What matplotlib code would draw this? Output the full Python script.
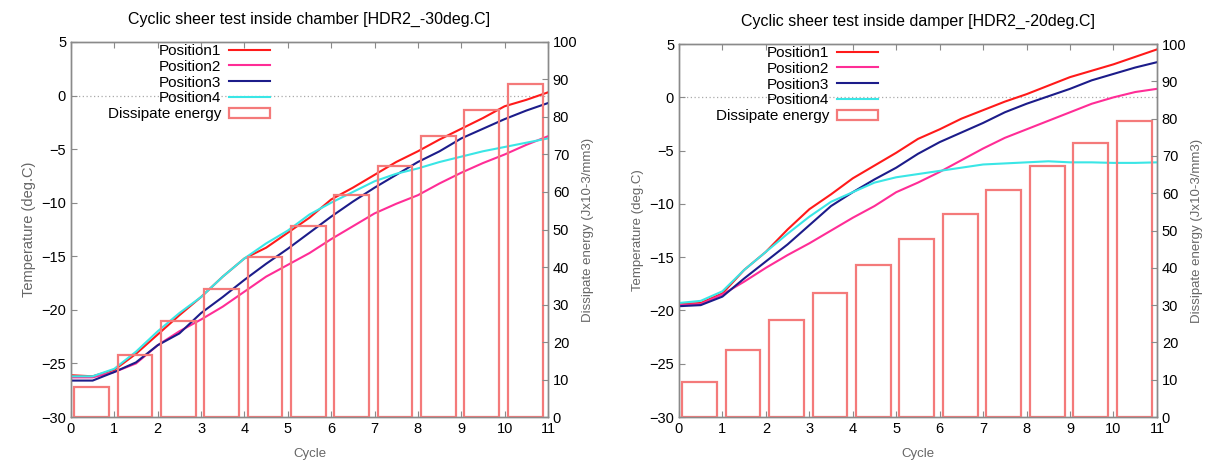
import matplotlib

matplotlib.use("Agg")
import matplotlib.pyplot as plt
from matplotlib.lines import Line2D
from matplotlib.patches import Patch

plt.rcParams["font.family"] = ["Liberation Sans", "DejaVu Sans"]

# every half cycle
CYCLE_PTS = [0, 0.5, 1, 1.5, 2, 2.5, 3, 3.5, 4, 4.5, 5, 5.5,
             6, 6.5, 7, 7.5, 8, 8.5, 9, 9.5, 10, 10.5, 11]
BAR_CYCLES = [0, 1, 2, 3, 4, 5, 6, 7, 8, 9, 10]
SERIES = ["Position1", "Position2", "Position3", "Position4"]

# chamber, -30 deg.C
L_POS1 = [-26.1, -26.2, -25.6, -24.1, -22.3, -20.5, -18.8, -16.9, -15.2, -14.2, -12.8, -11.4,
          -9.7, -8.6, -7.4, -6.2, -5.2, -4.1, -3.1, -2.1, -1.0, -0.4, 0.3]
L_POS2 = [-26.3, -26.3, -25.8, -25.0, -23.3, -22.0, -20.9, -19.7, -18.3, -16.9, -15.8, -14.7,
          -13.4, -12.2, -11.0, -10.1, -9.3, -8.2, -7.2, -6.3, -5.5, -4.6, -3.8]
L_POS3 = [-26.6, -26.6, -25.8, -24.9, -23.3, -22.2, -20.3, -18.8, -17.2, -15.7, -14.3, -12.8,
          -11.3, -9.9, -8.6, -7.4, -6.2, -5.2, -4.0, -3.1, -2.2, -1.4, -0.7]
L_POS4 = [-26.2, -26.2, -25.5, -23.9, -22.0, -20.3, -18.8, -16.9, -15.2, -13.8, -12.6, -11.1,
          -10.0, -9.0, -8.0, -7.3, -6.8, -6.2, -5.7, -5.2, -4.8, -4.4, -4.0]
L_ENERGY = [7.9, 16.5, 25.7, 34.2, 42.7, 51.0, 59.3, 66.8, 74.8, 81.9, 88.7]

# damper, -20 deg.C
R_POS1 = [-19.4, -19.3, -18.4, -16.2, -14.5, -12.4, -10.5, -9.1, -7.6, -6.4, -5.2, -3.9,
          -3.0, -2.0, -1.2, -0.4, 0.3, 1.1, 1.9, 2.5, 3.1, 3.8, 4.5]
R_POS2 = [-19.5, -19.4, -18.5, -17.3, -16.0, -14.8, -13.7, -12.5, -11.3, -10.2, -8.9, -8.0,
          -7.0, -5.9, -4.8, -3.8, -3.0, -2.2, -1.4, -0.6, 0.0, 0.5, 0.8]
R_POS3 = [-19.6, -19.5, -18.7, -17.0, -15.4, -13.8, -12.0, -10.2, -8.9, -7.7, -6.6, -5.3,
          -4.2, -3.3, -2.4, -1.4, -0.6, 0.1, 0.8, 1.6, 2.2, 2.8, 3.3]
R_POS4 = [-19.3, -19.1, -18.2, -16.2, -14.5, -12.8, -11.2, -9.8, -8.9, -8.0, -7.5, -7.2,
          -6.9, -6.6, -6.3, -6.2, -6.1, -6.0, -6.1, -6.1, -6.15, -6.15, -6.1]
R_ENERGY = [9.4, 18.0, 25.9, 33.3, 40.8, 47.6, 54.5, 61.0, 67.4, 73.4, 79.5]

TEMP_TICKS = [-30, -25, -20, -15, -10, -5, 0, 5]
ENERGY_TICKS = [0, 10, 20, 30, 40, 50, 60, 70, 80, 90, 100]
CYCLE_TICKS = [0, 1, 2, 3, 4, 5, 6, 7, 8, 9, 10, 11]

COLORS = ["#ff1a1a", "#ff2d96", "#1c1c8a", "#3ae6e6"]
BAR_COLOR = "#f47a7a"
AXIS_GRAY = "#8a8a8a"
LABEL_GRAY = "#666666"


def style_axis(ax):
    for sp in ax.spines.values():
        sp.set_color(AXIS_GRAY)
        sp.set_linewidth(1.0)
    ax.tick_params(direction="in", length=4, color=AXIS_GRAY, labelsize=10.5,
                   labelcolor="black")


def draw_panel(ax, title, curves, energy, ylabel_size):
    ax.axhline(0, color="#aaaaaa", lw=0.9, ls=(0, (1, 2)), zorder=1)
    for name, vals, col in zip(SERIES, curves, COLORS):
        ax.plot(CYCLE_PTS, vals, color=col, lw=1.5, label=name, zorder=3)
    ax.set_xlim(0, 11)
    ax.set_ylim(-30, 5)
    ax.set_xticks(CYCLE_TICKS)
    ax.set_yticks(TEMP_TICKS)
    ax.tick_params(top=True, right=False)
    style_axis(ax)
    ax.set_title(title, fontsize=11.5, pad=13)
    ax.set_xlabel("Cycle", fontsize=9.5, color=LABEL_GRAY, labelpad=9)
    ax.set_ylabel("Temperature (deg.C)", fontsize=ylabel_size, color=LABEL_GRAY, labelpad=4)

    ax2 = ax.twinx()
    ax2.bar([c + 0.475 for c in BAR_CYCLES], energy, width=0.8, facecolor="none",
            edgecolor=BAR_COLOR, lw=1.6)
    ax2.set_ylim(0, 100)
    ax2.set_yticks(ENERGY_TICKS)
    style_axis(ax2)
    ax2.set_ylabel("Dissipate energy (Jx10-3/mm3)", fontsize=9.5, color=LABEL_GRAY,
                   labelpad=3)

    handles = [Line2D([], [], color=c, lw=1.5) for c in COLORS]
    handles.append(Patch(facecolor="white", edgecolor=BAR_COLOR, lw=1.6))
    ax2.legend(handles, SERIES + ["Dissipate energy"], loc="upper right",
               bbox_to_anchor=(0.417, 0.995), frameon=False, markerfirst=False,
               fontsize=11, handlelength=2.7, handletextpad=0.5, labelspacing=0.12,
               borderpad=0, borderaxespad=0)


def main():
    fig = plt.figure(figsize=(12.3, 4.65), dpi=100)
    ax_l = fig.add_axes([0.0577, 0.1032, 0.3878, 0.8065])
    ax_r = fig.add_axes([0.552, 0.1032, 0.3886, 0.802])

    draw_panel(ax_l, "Cyclic sheer test inside chamber [HDR2_-30deg.C]",
               [L_POS1, L_POS2, L_POS3, L_POS4], L_ENERGY, 10.5)
    draw_panel(ax_r, "Cyclic sheer test inside damper [HDR2_-20deg.C]",
               [R_POS1, R_POS2, R_POS3, R_POS4], R_ENERGY, 9.5)

    fig.savefig("out.png", dpi=100)
    plt.close(fig)


if __name__ == "__main__":
    main()
